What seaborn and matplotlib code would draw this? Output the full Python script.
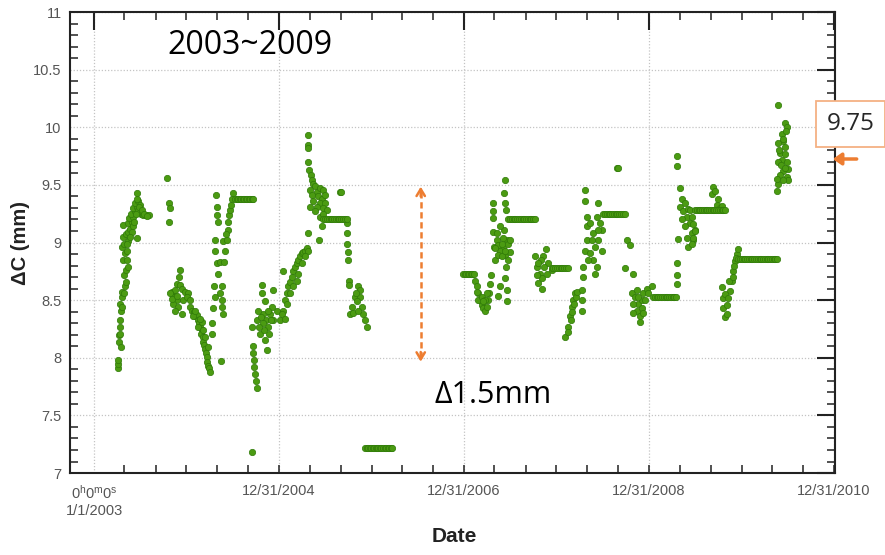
import numpy as np
import pandas as pd
import matplotlib
matplotlib.use("Agg")
import matplotlib.pyplot as plt
import matplotlib.dates as mdates
from matplotlib.ticker import MultipleLocator, FixedLocator, FuncFormatter
import seaborn as sns

# ---------------- data (day offsets from 1/1/2003, ΔC in mm) ----------------
START = "2003-01-01"

g2003_days = [93, 93, 96, 99, 99, 103, 101, 107, 104, 109, 112, 122, 125, 120, 125, 116, 122, 129, 109, 120,
              136, 116, 125, 133, 142, 116, 136, 149, 138, 155, 146, 162, 155, 168, 162, 175, 168, 168, 182, 175,
              186, 195, 204, 215, 155, 168, 129, 136, 120, 112, 103, 107, 149, 159, 142, 129, 165, 178, 188, 199, 209]
g2003_vals = [7.91, 7.95, 7.98, 8.14, 8.20, 8.27, 8.33, 8.41, 8.47, 8.53, 8.57, 8.62, 8.66, 8.72, 8.76, 8.85, 8.91, 8.93, 8.96, 8.99,
              9.01, 9.05, 9.07, 9.09, 9.12, 9.15, 9.17, 9.18, 9.21, 9.22, 9.25, 9.27, 9.30, 9.31, 9.34, 9.36, 9.38, 9.43, 9.33, 9.28,
              9.25, 9.24, 9.24, 9.24, 9.14, 9.04, 8.85, 8.79, 8.56, 8.44, 8.21, 8.09, 9.09, 9.18, 9.05, 8.99, 9.25, 9.31, 9.28, 9.25, 9.23]

g2003b_days = [290, 297, 298, 296, 340, 336, 326, 340, 307, 320, 346, 359, 372, 313, 300, 326, 313, 333, 320, 346,
               353, 366, 307, 326, 379]
g2003b_vals = [9.56, 9.34, 9.30, 9.18, 8.76, 8.70, 8.64, 8.63, 8.57, 8.59, 8.60, 8.57, 8.56, 8.53, 8.56, 8.50, 8.47, 8.44, 8.41, 8.38,
               8.50, 8.53, 8.51, 8.54, 8.50]

g2004a_days = [379, 388, 396, 399, 405, 412, 416, 418, 425, 422, 429, 432, 436, 438, 441, 445, 445, 451, 454, 458,
               392, 409, 425, 399, 418, 438, 449, 432, 501]
g2004a_vals = [8.44, 8.41, 8.40, 8.36, 8.37, 8.33, 8.30, 8.27, 8.24, 8.21, 8.18, 8.14, 8.11, 8.08, 8.04, 8.01, 7.96, 7.93, 7.91, 7.88,
               8.36, 8.27, 8.31, 8.41, 8.34, 8.18, 8.09, 8.24, 7.97]

g2004b_days = [464, 467, 471, 478, 497, 504, 507, 511, 491, 484, 497, 515, 478, 484, 482, 484, 488, 517, 511, 524,
               528, 530, 533, 537, 541, 546, 550, 520, 504, 475, 478]
g2004b_vals = [8.21, 8.30, 8.43, 8.53, 8.56, 8.62, 8.44, 8.38, 8.73, 8.82, 8.83, 8.83, 9.02, 9.31, 9.41, 9.24, 9.18, 8.93, 9.01, 9.02,
               9.11, 9.18, 9.24, 9.28, 9.33, 9.38, 9.43, 9.07, 8.50, 8.62, 8.93]

g2005a_days = [623, 627, 629, 631, 633, 636, 639, 642, 623, 642, 662, 662, 708, 656, 675, 682, 695, 708, 721, 688,
               669, 679, 702, 666, 692, 671, 649, 658, 685, 698, 677, 653]
g2005a_vals = [7.18, 8.10, 8.04, 7.98, 7.92, 7.86, 7.80, 7.74, 8.27, 8.33, 8.63, 8.56, 8.59, 8.21, 8.15, 8.07, 8.38, 8.33, 8.41, 8.27,
               8.38, 8.33, 8.44, 8.30, 8.21, 8.24, 8.41, 8.35, 8.41, 8.33, 8.49, 8.27]

g2005b_days = [748, 734, 748, 754, 761, 767, 774, 781, 787, 794, 800, 807, 813, 820, 827, 833, 840, 846, 761, 774,
               787, 800, 807, 820, 833, 741, 754]
g2005b_vals = [8.75, 8.33, 8.41, 8.50, 8.56, 8.62, 8.66, 8.70, 8.75, 8.79, 8.82, 8.85, 8.88, 8.91, 8.92, 8.93, 8.95, 8.93, 8.47, 8.56,
               8.62, 8.67, 8.73, 8.82, 8.88, 8.38, 8.34]

g2005c_days = [846, 846, 846, 846, 850, 855, 859, 866, 873, 853, 879, 892, 906, 859, 886, 899, 912, 866, 892, 912,
               853, 879, 903, 919, 892, 899, 890, 844, 873, 906, 971, 977,
               998, 998, 1000, 1002, 1004, 1008, 1008]
g2005c_vals = [9.93, 9.85, 9.82, 9.70, 9.63, 9.59, 9.54, 9.51, 9.49, 9.46, 9.44, 9.47, 9.46, 9.41, 9.40, 9.38, 9.41, 9.36, 9.34, 9.34,
               9.31, 9.31, 9.30, 9.28, 9.22, 9.14, 9.02, 9.08, 9.27, 9.25, 9.44, 9.44,
               9.17, 9.08, 8.99, 8.92, 8.85, 8.67, 8.63]

g2005d_days = [1044, 1031, 1050, 1017, 1037, 1057, 1011, 1064, 1070, 1077, 1024, 1044, 1050, 1035]
g2005d_vals = [8.62, 8.53, 8.53, 8.44, 8.49, 8.44, 8.38, 8.38, 8.33, 8.27, 8.39, 8.41, 8.59, 8.56]

g2007a_days = [1504, 1511, 1518, 1524, 1531, 1537, 1544, 1551, 1557, 1560, 1564, 1568, 1518, 1531, 1544, 1551, 1511, 1537,
               1577, 1577, 1577, 1577, 1581, 1584, 1603, 1597,
               1623, 1620, 1623, 1626, 1620, 1630, 1616, 1623, 1626, 1623, 1630, 1630,
               1590, 1597, 1610, 1603, 1584, 1616, 1636, 1643, 1636, 1597, 1610, 1623, 1590, 1603, 1643]
g2007a_vals = [8.67, 8.62, 8.56, 8.50, 8.46, 8.43, 8.41, 8.44, 8.50, 8.56, 8.64, 8.72, 8.50, 8.53, 8.50, 8.56, 8.57, 8.49,
               9.34, 9.27, 9.21, 9.09, 8.96, 8.85, 8.62, 8.54,
               9.54, 9.43, 9.34, 9.28, 9.11, 9.02, 8.95, 8.89, 8.79, 8.69, 8.59, 8.49,
               9.02, 8.98, 8.99, 8.93, 8.95, 9.04, 8.99, 8.92, 8.85, 8.89, 8.88, 8.93, 9.08, 9.14, 9.02]

g2007b_days = [1784, 1774, 1742, 1748, 1761, 1755, 1768, 1794, 1807, 1765, 1778, 1755, 1770, 1787, 1748]
g2007b_vals = [8.94, 8.88, 8.88, 8.79, 8.73, 8.65, 8.60, 8.82, 8.76, 8.85, 8.79, 8.82, 8.69, 8.73, 8.72]

g2008a_days = [1860, 1873, 1880, 1886, 1893, 1899, 1871, 1884, 1889, 1897, 1902, 1906,
               1926, 1926, 1926, 1939, 1939, 1946, 1946, 1992, 1985, 1998, 2005, 1992, 1978, 1939, 1959, 1972, 1985, 1978,
               1932, 1932, 2005, 1946, 1965, 1952, 1972, 1959, 1992,
               2065, 2070, 2104, 2117, 2097, 2127]
g2008a_vals = [8.18, 8.27, 8.36, 8.44, 8.50, 8.56, 8.22, 8.33, 8.40, 8.47, 8.53, 8.57,
               8.59, 8.50, 8.41, 9.46, 9.36, 9.22, 9.14, 9.34, 9.22, 9.17, 9.11, 9.02, 8.96, 8.93, 8.91, 8.85, 8.79, 8.73,
               8.79, 8.70, 8.93, 9.02, 9.02, 8.85, 9.08, 9.17, 9.11,
               9.65, 9.65, 9.02, 8.98, 8.78, 8.73]

g2008b_days = [2123, 2136, 2150, 2163, 2169, 2182, 2202, 2143, 2156, 2156, 2130, 2143, 2163, 2176, 2150, 2130, 2169, 2189,
               2301, 2304, 2301]
g2008b_vals = [8.56, 8.53, 8.47, 8.50, 8.56, 8.60, 8.62, 8.41, 8.36, 8.31, 8.47, 8.59, 8.43, 8.50, 8.53, 8.39, 8.39, 8.56,
               8.82, 8.72, 8.64]

g2009a_days = [2301, 2304, 2314, 2321, 2314, 2327, 2340, 2354, 2334, 2360, 2367, 2373, 2340, 2307, 2347, 2321, 2334, 2347,
               2354, 2360, 2367, 2373, 2367, 2360,
               2446, 2465, 2439, 2452, 2459, 2472, 2479]
g2009a_vals = [9.75, 9.66, 9.47, 9.38, 9.31, 9.27, 9.22, 9.17, 9.14, 9.08, 9.02, 9.11, 9.04, 9.03, 8.96, 9.20, 9.34, 9.29,
               9.28, 9.22, 9.16, 9.10, 9.04, 8.99,
               9.48, 9.38, 9.42, 9.45, 9.33, 9.30, 9.32]

g2009b_days = [2479, 2485, 2485, 2492, 2498, 2512, 2518, 2525, 2531, 2538, 2544, 2492, 2505, 2498, 2509, 2522, 2527, 2535]
g2009b_vals = [8.61, 8.52, 8.43, 8.35, 8.46, 8.58, 8.67, 8.75, 8.84, 8.90, 8.94, 8.55, 8.52, 8.38, 8.67, 8.70, 8.80, 8.87]

g2010_days = [2702, 2729, 2735, 2716, 2722, 2702, 2729, 2709, 2716, 2735, 2702, 2722, 2742, 2709, 2735, 2742, 2702, 2696,
              2733, 2719, 2706, 2729, 2712, 2729, 2696, 2722]
g2010_vals = [10.19, 10.04, 10.00, 9.94, 9.88, 9.86, 9.83, 9.78, 9.72, 9.70, 9.70, 9.62, 9.64, 9.59, 9.57, 9.54, 9.51, 9.45,
              9.97, 9.90, 9.80, 9.77, 9.67, 9.65, 9.55, 9.54]

# flat runs of readings (days, constant level)
run_2004_days = [557, 563, 569, 575, 581, 587, 593, 599, 605, 611, 617, 623, 629]
run_2004_level = 9.38
run_2005_days = [906, 913, 920, 927, 934, 941, 948, 955, 962, 969, 976, 983, 990, 997]
run_2005_level = 9.20
run_2006_days = [1070, 1076, 1082, 1088, 1094, 1100, 1106, 1112, 1116, 1123, 1129, 1135, 1141, 1147, 1153, 1159, 1165, 1171, 1176]
run_2006_level = 7.22
run_2007a_days = [1458, 1464, 1470, 1476, 1482, 1488, 1494, 1500]
run_2007a_level = 8.73
run_2007b_days = [1636, 1643, 1650, 1657, 1664, 1671, 1678, 1685, 1692, 1699, 1706, 1713, 1720, 1727, 1734, 1741]
run_2007b_level = 9.20
run_2007c_days = [1807, 1814, 1821, 1828, 1835, 1842, 1849, 1856, 1863, 1870]
run_2007c_level = 8.78
run_2008a_days = [2011, 2018, 2025, 2032, 2039, 2046, 2053, 2060, 2067, 2074, 2081, 2088, 2095]
run_2008a_level = 9.25
run_2008b_days = [2208, 2215, 2222, 2229, 2236, 2243, 2250, 2257, 2264, 2271, 2278, 2285, 2292, 2299]
run_2008b_level = 8.53
run_2009a_days = [2373, 2380, 2387, 2394, 2401, 2408, 2415, 2422, 2429, 2436, 2443, 2450, 2457, 2464, 2471, 2478, 2485, 2492]
run_2009a_level = 9.28
run_2009b_days = [2544, 2551, 2558, 2565, 2572, 2579, 2586, 2593, 2600, 2607, 2614, 2621, 2628, 2635, 2642, 2649, 2656,
                  2663, 2670, 2677, 2684, 2691, 2698]
run_2009b_level = 8.86

x_tick_dates = ["2003-01-01", "2004-12-31", "2006-12-31", "2008-12-31", "2010-12-31"]
x_tick_labels = ["0$^{\\mathrm{h}}$0$^{\\mathrm{m}}$0$^{\\mathrm{s}}$\n1/1/2003",
                 "12/31/2004", "12/31/2006", "12/31/2008", "12/31/2010"]

# ---------------- assemble ----------------
groups = [(g2003_days, g2003_vals), (g2003b_days, g2003b_vals), (g2004a_days, g2004a_vals),
          (g2004b_days, g2004b_vals), (g2005a_days, g2005a_vals), (g2005b_days, g2005b_vals),
          (g2005c_days, g2005c_vals), (g2005d_days, g2005d_vals), (g2007a_days, g2007a_vals),
          (g2007b_days, g2007b_vals), (g2008a_days, g2008a_vals), (g2008b_days, g2008b_vals),
          (g2009a_days, g2009a_vals), (g2009b_days, g2009b_vals), (g2010_days, g2010_vals)]
runs = [(run_2004_days, run_2004_level), (run_2005_days, run_2005_level), (run_2006_days, run_2006_level),
        (run_2007a_days, run_2007a_level), (run_2007b_days, run_2007b_level), (run_2007c_days, run_2007c_level),
        (run_2008a_days, run_2008a_level), (run_2008b_days, run_2008b_level), (run_2009a_days, run_2009a_level),
        (run_2009b_days, run_2009b_level)]

all_days, all_vals = [], []
for d, v in groups:
    assert len(d) == len(v)
    all_days += list(d)
    all_vals += list(v)
for d, lvl in runs:
    all_days += list(d)
    all_vals += [lvl] * len(d)

start = pd.Timestamp(START)
df = pd.DataFrame({"date": start + pd.to_timedelta(all_days, unit="D"), "dc": all_vals})

# ---------------- style ----------------
sns.set_style("white")
plt.rcParams["font.family"] = ["Liberation Sans", "DejaVu Sans"]
plt.rcParams["mathtext.fontset"] = "custom"
plt.rcParams["mathtext.rm"] = "Liberation Sans"
plt.rcParams["mathtext.it"] = "Liberation Sans:italic"

GREEN = "#4b9b12"
EDGE = "#2f7a08"
ORANGE = "#ed7d31"

fig = plt.figure(figsize=(8.85, 5.55), dpi=100)
ax = fig.add_axes([0.0791, 0.1477, 0.8644, 0.8306])

sns.scatterplot(data=df, x="date", y="dc", ax=ax, s=21, color=GREEN, edgecolor=EDGE,
                linewidth=0.5, legend=False, zorder=3)

ax.set_ylim(7, 11)
ax.set_xlim(pd.Timestamp("2002-09-28"), pd.Timestamp("2011-01-05"))

ax.xaxis.set_major_locator(FixedLocator(mdates.date2num(pd.to_datetime(x_tick_dates))))
ax.set_xticklabels(x_tick_labels)
ax.xaxis.set_minor_locator(mdates.MonthLocator(bymonth=[1, 5, 9]))
ax.yaxis.set_major_locator(MultipleLocator(0.5))
ax.yaxis.set_minor_locator(MultipleLocator(0.1))
ax.yaxis.set_major_formatter(FuncFormatter(lambda v, p: f"{v:g}"))

ax.tick_params(which="major", direction="in", length=13, width=1.5, top=True, right=True,
               labelsize=10.5, labelcolor="#555555", color="#222222")
ax.tick_params(which="minor", direction="in", length=5.5, width=1.1, top=True, right=True,
               left=True, bottom=True, color="#222222")
ax.tick_params(axis="x", which="major", pad=8)
ax.tick_params(axis="y", which="major", pad=6)

for sp in ax.spines.values():
    sp.set_visible(True)
    sp.set_linewidth(1.5)
    sp.set_color("#222222")

ax.grid(True, which="major", color="#c4c4c4", linestyle=(0, (1, 1.5)), linewidth=0.9)
ax.set_axisbelow(True)

ax.set_ylabel("ΔC (mm)", fontsize=14.5, fontweight="bold", color="#222222")
ax.yaxis.set_label_coords(-0.052, 0.5)
ax.set_xlabel("Date", fontsize=15, fontweight="bold", color="#222222")
ax.xaxis.set_label_coords(0.503, -0.117)

# annotations
ax.text(0.235, 0.928, "2003~2009", transform=ax.transAxes, fontsize=23, family="Open Sans",
        ha="center", va="center", color="black")
ax.text(0.553, 0.169, "Δ1.5mm", transform=ax.transAxes, fontsize=22, family="Open Sans",
        ha="center", va="center", color="black")

arrow_x = start + pd.Timedelta(days=1290)
ax.plot([arrow_x, arrow_x], [8.0, 9.45], color=ORANGE, lw=1.8, ls=(0, (2.5, 1.5)), zorder=4)
ax.annotate("", xy=(arrow_x, 9.485), xytext=(arrow_x, 9.40),
            arrowprops=dict(arrowstyle="->,head_length=0.5,head_width=0.3", color=ORANGE, lw=1.8,
                            shrinkA=0, shrinkB=0))
ax.annotate("", xy=(arrow_x, 7.966), xytext=(arrow_x, 8.05),
            arrowprops=dict(arrowstyle="->,head_length=0.5,head_width=0.3", color=ORANGE, lw=1.8,
                            shrinkA=0, shrinkB=0))

fig.text(0.961, 0.776, "9.75", fontsize=17.5, family="Open Sans", ha="center", va="center",
         bbox=dict(boxstyle="square,pad=0.45", fc="white", ec="#f4b183", lw=1.3))
ax.annotate("", xy=(0.941, 0.7135), xytext=(0.968, 0.7135), xycoords="figure fraction",
            textcoords="figure fraction", annotation_clip=False,
            arrowprops=dict(arrowstyle="-|>,head_length=0.5,head_width=0.35", color=ORANGE, lw=2.5,
                            shrinkA=0, shrinkB=0))

fig.savefig("out.png", dpi=100)
